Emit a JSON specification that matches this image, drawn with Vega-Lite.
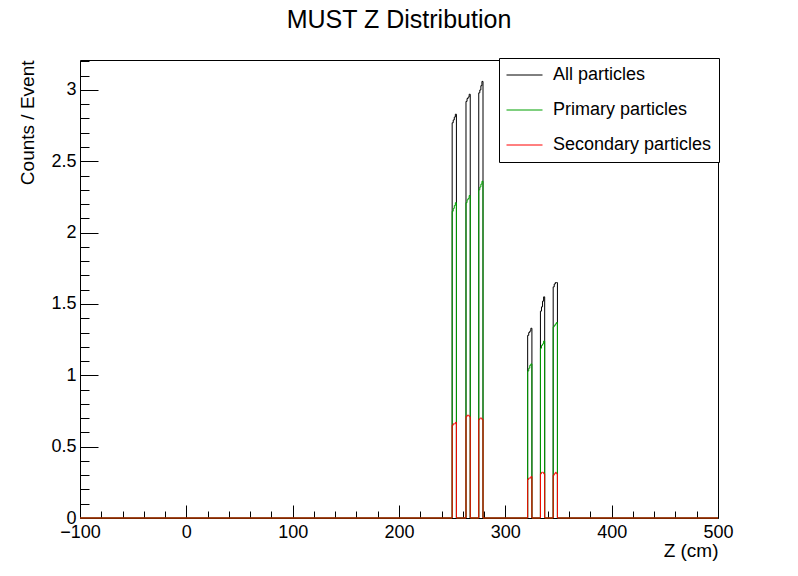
{
  "$schema": "https://vega.github.io/schema/vega-lite/v6.json",
  "autosize": {"type": "none"},
  "padding": {"left": 80, "top": 60, "right": 80, "bottom": 58},
  "width": 638,
  "height": 458,
  "background": "white",
  "title": {
    "text": "MUST Z Distribution",
    "font": "Liberation Sans",
    "fontSize": 25,
    "fontWeight": "normal",
    "color": "black",
    "anchor": "middle",
    "offset": 19
  },
  "config": {
    "view": {"stroke": "black", "strokeWidth": 1},
    "font": "Liberation Sans"
  },
  "data": {
    "values": [
      {"z": -100, "all": 0, "primary": 0, "secondary": 0},
      {"z": 250, "all": 2.77, "primary": 2.15, "secondary": 0.65},
      {"z": 251, "all": 2.79, "primary": 2.17, "secondary": 0.66},
      {"z": 252, "all": 2.81, "primary": 2.19, "secondary": 0.66},
      {"z": 253, "all": 2.83, "primary": 2.21, "secondary": 0.67},
      {"z": 254, "all": 0, "primary": 0, "secondary": 0},
      {"z": 263, "all": 2.92, "primary": 2.21, "secondary": 0.71},
      {"z": 264, "all": 2.94, "primary": 2.23, "secondary": 0.72},
      {"z": 265, "all": 2.95, "primary": 2.24, "secondary": 0.72},
      {"z": 266, "all": 2.97, "primary": 2.26, "secondary": 0.71},
      {"z": 267, "all": 0, "primary": 0, "secondary": 0},
      {"z": 275, "all": 2.98, "primary": 2.30, "secondary": 0.69},
      {"z": 276, "all": 3.00, "primary": 2.32, "secondary": 0.70},
      {"z": 277, "all": 3.03, "primary": 2.34, "secondary": 0.70},
      {"z": 278, "all": 3.06, "primary": 2.36, "secondary": 0.69},
      {"z": 279, "all": 0, "primary": 0, "secondary": 0},
      {"z": 321, "all": 1.28, "primary": 1.03, "secondary": 0.27},
      {"z": 322, "all": 1.30, "primary": 1.05, "secondary": 0.28},
      {"z": 323, "all": 1.31, "primary": 1.07, "secondary": 0.28},
      {"z": 324, "all": 1.33, "primary": 1.08, "secondary": 0.29},
      {"z": 325, "all": 0, "primary": 0, "secondary": 0},
      {"z": 333, "all": 1.45, "primary": 1.19, "secondary": 0.31},
      {"z": 334, "all": 1.48, "primary": 1.21, "secondary": 0.32},
      {"z": 335, "all": 1.52, "primary": 1.22, "secondary": 0.32},
      {"z": 336, "all": 1.55, "primary": 1.24, "secondary": 0.31},
      {"z": 337, "all": 0, "primary": 0, "secondary": 0},
      {"z": 345, "all": 1.62, "primary": 1.34, "secondary": 0.30},
      {"z": 346, "all": 1.64, "primary": 1.35, "secondary": 0.31},
      {"z": 347, "all": 1.65, "primary": 1.36, "secondary": 0.32},
      {"z": 348, "all": 1.65, "primary": 1.37, "secondary": 0.31},
      {"z": 349, "all": 0, "primary": 0, "secondary": 0},
      {"z": 500, "all": 0, "primary": 0, "secondary": 0}
    ]
  },
  "transform": [
    {"fold": ["all", "primary", "secondary"], "as": ["series", "counts"]}
  ],
  "mark": {"type": "line", "interpolate": "step-after", "strokeWidth": 1},
  "encoding": {
    "x": {
      "field": "z",
      "type": "quantitative",
      "scale": {"domain": [-100, 500], "nice": false, "zero": false},
      "axis": {
        "title": "Z (cm)",
        "zindex": 0,
        "domain": false,
        "values": [-100, -80, -60, -40, -20, 0, 20, 40, 60, 80, 100, 120, 140, 160, 180, 200, 220, 240, 260, 280, 300, 320, 340, 360, 380, 400, 420, 440, 460, 480, 500],
        "labelExpr": "datum.value % 100 === 0 ? datum.label : ''",
        "tickSize": {"condition": {"test": "datum.value % 100 === 0", "value": -13}, "value": -7},
        "tickColor": "black",
        "grid": false,
        "labelFont": "Liberation Sans",
        "labelFontSize": 18,
        "labelColor": "black",
        "labelPadding": 18,
        "labelFlush": false,
        "labelOverlap": false,
        "titleFont": "Liberation Sans",
        "titleFontSize": 19,
        "titleFontWeight": "normal",
        "titleColor": "black",
        "titleAlign": "right",
        "titleAnchor": "end",
        "titleBaseline": "alphabetic",
        "titleX": 638,
        "titleY": 38
      }
    },
    "y": {
      "field": "counts",
      "type": "quantitative",
      "scale": {"domain": [0, 3.21], "nice": false},
      "axis": {
        "title": "Counts / Event",
        "zindex": 0,
        "domain": false,
        "values": [0, 0.1, 0.2, 0.3, 0.4, 0.5, 0.6, 0.7, 0.8, 0.9, 1, 1.1, 1.2, 1.3, 1.4, 1.5, 1.6, 1.7, 1.8, 1.9, 2, 2.1, 2.2, 2.3, 2.4, 2.5, 2.6, 2.7, 2.8, 2.9, 3, 3.1, 3.2],
        "format": "~g",
        "labelExpr": "abs(datum.value * 2 - round(datum.value * 2)) < 0.000001 ? datum.label : ''",
        "tickSize": {"condition": {"test": "abs(datum.value * 2 - round(datum.value * 2)) < 0.000001", "value": -18}, "value": -9},
        "tickColor": "black",
        "grid": false,
        "labelFont": "Liberation Sans",
        "labelFontSize": 18,
        "labelColor": "black",
        "labelPadding": 22,
        "labelFlush": false,
        "labelOverlap": false,
        "titleFont": "Liberation Sans",
        "titleFontSize": 19,
        "titleFontWeight": "normal",
        "titleColor": "black",
        "titleAngle": 270,
        "titleAlign": "right",
        "titleAnchor": "end",
        "titleBaseline": "middle",
        "titleX": -53,
        "titleY": 0
      }
    },
    "color": {
      "field": "series",
      "type": "nominal",
      "scale": {
        "domain": ["all", "primary", "secondary"],
        "range": ["#000000", "#00a000", "#ff0000"]
      },
      "legend": {
        "title": null,
        "orient": "none",
        "legendX": 419,
        "legendY": -2,
        "labelExpr": "datum.value === 'all' ? 'All particles' : datum.value === 'primary' ? 'Primary particles' : 'Secondary particles'",
        "symbolType": "stroke",
        "symbolSize": 1296,
        "symbolStrokeWidth": 1,
        "clipHeight": 20,
        "labelFont": "Liberation Sans",
        "labelFontSize": 18,
        "labelColor": "black",
        "labelOffset": 10,
        "rowPadding": 15,
        "padding": 7,
        "strokeColor": "black",
        "fillColor": "white",
        "cornerRadius": 0
      }
    }
  }
}
